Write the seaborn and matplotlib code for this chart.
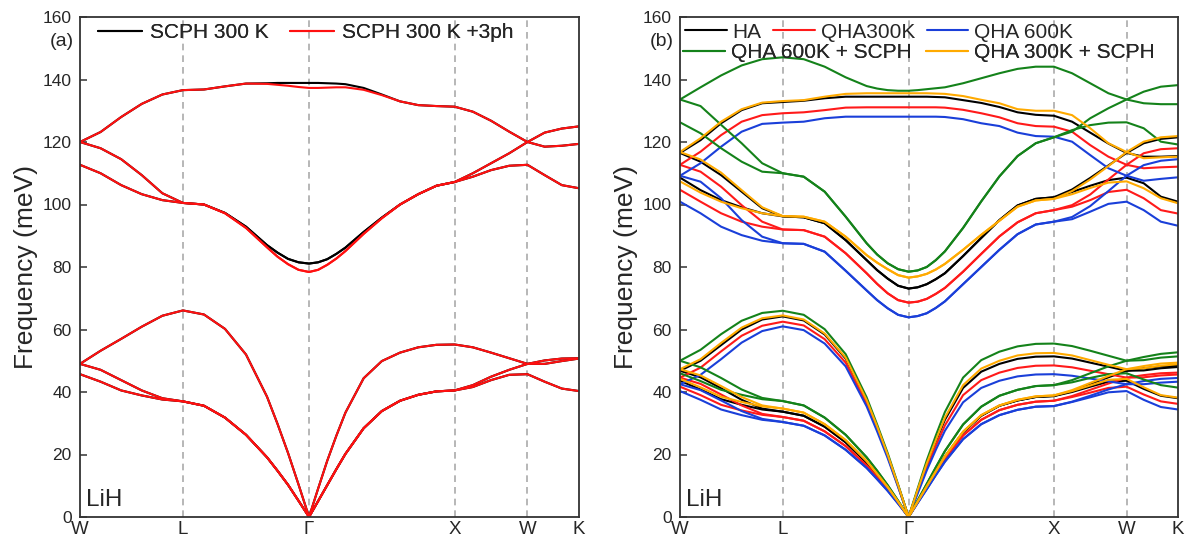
import numpy as np
import pandas as pd
import matplotlib
matplotlib.use("Agg")
import matplotlib.pyplot as plt
from matplotlib.lines import Line2D
import seaborn as sns

# fcc path W-L-G-X-W-K, distances in units of 2pi/a
KPOINT_LABELS = ["W", "L", "Γ", "X", "W", "K"]
KPOINT_POS = [0.0, 0.707, 1.573, 2.573, 3.073, 3.427]
# where the values were read along each segment (fraction of segment)
SEG_FRACS = [
    [0.2, 0.4, 0.6, 0.8, 1.0],
    [1 / 6, 2 / 6, 3 / 6, 4 / 6, 3 / 4, 5 / 6, 11 / 12, 1.0],
    [1 / 16, 1 / 8, 3 / 16, 2 / 8, 3 / 8, 4 / 8, 5 / 8, 6 / 8, 7 / 8, 1.0],
    [0.25, 0.5, 0.75, 1.0],
    [1 / 3, 2 / 3, 1.0],
]

# ---- panel (a): LiH SCPH 300 K, bands 1..6 (meV) ----
scph300 = [
    [45.7, 43.3, 40.5, 38.9, 37.6, 37.0, 35.6, 31.8, 26.3, 19.1, 14.8, 10.3, 5.2, 0.0, 5.1, 10.2, 15.3, 20.2, 28.4, 33.9, 37.2, 39.1, 40.2, 40.5, 41.6, 43.8, 45.5, 45.7, 43.3, 41.1, 40.3],
    [49.0, 47.1, 43.8, 40.5, 38.0, 37.0, 35.6, 31.8, 26.3, 19.1, 14.8, 10.3, 5.2, 0.0, 5.1, 10.2, 15.3, 20.2, 28.4, 33.9, 37.2, 39.1, 40.2, 40.5, 42.2, 44.9, 47.1, 49.0, 49.0, 49.9, 50.7],
    [49.0, 53.2, 57.0, 60.9, 64.4, 66.1, 64.8, 60.2, 52.0, 38.5, 29.8, 20.5, 10.4, 0.0, 9.1, 18.0, 26.0, 33.4, 44.4, 49.9, 52.6, 54.3, 55.1, 55.2, 54.3, 52.6, 50.8, 49.0, 50.1, 50.7, 50.8],
    [112.7, 110.0, 106.2, 103.3, 101.4, 100.5, 100.0, 97.3, 92.9, 87.0, 84.6, 82.6, 81.5, 81.1, 81.5, 82.5, 84.2, 86.2, 91.2, 95.8, 100.0, 103.3, 106.0, 107.2, 108.9, 111.0, 112.4, 112.7, 109.4, 106.2, 105.2],
    [120.0, 118.0, 114.5, 109.4, 103.6, 100.5, 100.0, 97.3, 92.9, 87.0, 84.6, 82.6, 81.5, 81.1, 81.5, 82.5, 84.2, 86.2, 91.2, 95.8, 100.0, 103.3, 106.0, 107.2, 110.0, 113.2, 116.4, 120.0, 118.5, 118.8, 119.4],
    [120.0, 123.2, 128.0, 132.2, 135.2, 136.6, 136.8, 137.8, 138.7, 138.8, 138.9, 138.9, 138.9, 138.9, 138.9, 138.8, 138.7, 138.5, 137.3, 135.2, 133.0, 131.8, 131.5, 131.3, 129.7, 126.8, 123.3, 120.0, 123.0, 124.3, 125.0],
]
scph300_3ph = [
    [45.7, 43.3, 40.5, 38.9, 37.6, 37.0, 35.6, 31.8, 26.3, 19.1, 14.8, 10.3, 5.2, 0.0, 5.1, 10.2, 15.3, 20.2, 28.4, 33.9, 37.2, 39.1, 40.2, 40.5, 41.6, 43.8, 45.5, 45.7, 43.3, 41.1, 40.3],
    [49.0, 47.1, 43.8, 40.5, 38.0, 37.0, 35.6, 31.8, 26.3, 19.1, 14.8, 10.3, 5.2, 0.0, 5.1, 10.2, 15.3, 20.2, 28.4, 33.9, 37.2, 39.1, 40.2, 40.5, 42.2, 44.9, 47.1, 49.0, 49.0, 49.9, 50.7],
    [49.0, 53.2, 57.0, 60.9, 64.4, 66.1, 64.8, 60.2, 52.0, 38.5, 29.8, 20.5, 10.4, 0.0, 9.1, 18.0, 26.0, 33.4, 44.4, 49.9, 52.6, 54.3, 55.1, 55.2, 54.3, 52.6, 50.8, 49.0, 50.1, 50.7, 50.8],
    [112.7, 110.0, 106.2, 103.3, 101.4, 100.5, 100.0, 97.2, 92.5, 86.3, 83.3, 80.9, 79.1, 78.4, 79.1, 80.7, 82.7, 85.1, 90.6, 95.6, 100.0, 103.3, 106.0, 107.2, 108.9, 111.0, 112.4, 112.7, 109.4, 106.2, 105.2],
    [120.0, 118.0, 114.5, 109.4, 103.6, 100.5, 100.0, 97.2, 92.5, 86.3, 83.3, 80.9, 79.1, 78.4, 79.1, 80.7, 82.7, 85.1, 90.6, 95.6, 100.0, 103.3, 106.0, 107.2, 110.0, 113.2, 116.4, 120.0, 118.5, 118.8, 119.4],
    [120.0, 123.2, 128.0, 132.2, 135.2, 136.6, 136.8, 137.8, 138.7, 138.6, 138.3, 138.0, 137.6, 137.3, 137.3, 137.4, 137.5, 137.5, 136.7, 135.0, 133.0, 131.8, 131.5, 131.3, 129.7, 126.8, 123.3, 120.0, 123.0, 124.3, 125.0],
]

# ---- panel (b): HA / QHA / QHA+SCPH ----
ha = [
    [43.6, 40.8, 37.7, 35.9, 34.4, 33.7, 32.4, 28.9, 23.9, 17.4, 13.4, 9.3, 4.7, 0.0, 4.9, 9.8, 14.6, 19.3, 27.1, 32.4, 35.6, 37.3, 38.4, 38.7, 40.0, 41.7, 43.3, 43.6, 41.0, 38.8, 38.0],
    [46.8, 44.7, 41.2, 37.5, 34.7, 33.7, 32.4, 28.9, 23.9, 17.4, 13.4, 9.3, 4.7, 0.0, 4.9, 9.8, 14.6, 19.3, 27.1, 32.4, 35.6, 37.3, 38.4, 38.7, 40.3, 42.5, 44.7, 46.8, 46.9, 47.6, 48.0],
    [46.8, 50.0, 55.0, 60.0, 63.2, 64.2, 62.9, 58.4, 50.7, 37.2, 28.9, 19.9, 10.1, 0.0, 8.5, 16.8, 24.2, 31.1, 41.3, 46.5, 49.0, 50.6, 51.3, 51.4, 50.7, 49.4, 48.1, 46.8, 47.6, 48.2, 48.4],
    [108.6, 104.6, 101.4, 99.1, 97.2, 96.2, 95.9, 94.0, 88.6, 82.2, 79.0, 76.3, 74.0, 73.1, 73.5, 74.5, 76.1, 78.0, 83.5, 89.3, 95.0, 99.7, 101.8, 102.3, 104.0, 106.0, 107.8, 108.6, 106.8, 102.5, 100.9],
    [116.5, 113.7, 109.4, 104.1, 98.8, 96.2, 95.9, 94.0, 88.6, 82.2, 79.0, 76.3, 74.0, 73.1, 73.5, 74.5, 76.1, 78.0, 83.5, 89.3, 95.0, 99.7, 101.8, 102.3, 104.8, 108.5, 112.5, 116.5, 115.3, 115.3, 115.5],
    [116.5, 120.6, 126.0, 130.2, 132.4, 132.8, 133.2, 134.0, 134.5, 134.5, 134.5, 134.5, 134.5, 134.5, 134.5, 134.5, 134.4, 134.3, 133.4, 132.5, 131.2, 129.5, 128.7, 128.4, 126.5, 123.0, 119.5, 116.5, 119.6, 121.0, 121.5],
]
qha300 = [
    [41.7, 39.0, 35.9, 34.1, 32.7, 32.0, 30.8, 27.4, 22.7, 16.5, 12.7, 8.8, 4.5, 0.0, 4.7, 9.4, 14.1, 18.6, 26.1, 31.1, 34.2, 35.9, 36.9, 37.2, 38.4, 39.8, 41.3, 41.7, 39.2, 37.0, 36.2],
    [44.6, 42.6, 39.2, 35.7, 33.0, 32.0, 30.8, 27.4, 22.7, 16.5, 12.7, 8.8, 4.5, 0.0, 4.7, 9.4, 14.1, 18.6, 26.1, 31.1, 34.2, 35.9, 36.9, 37.2, 38.7, 40.7, 42.7, 44.6, 44.7, 45.3, 45.6],
    [44.6, 47.8, 53.0, 58.0, 61.2, 62.5, 61.3, 56.9, 49.4, 36.3, 28.1, 19.4, 9.8, 0.0, 8.0, 15.8, 22.8, 29.3, 39.0, 43.8, 46.2, 47.7, 48.4, 48.5, 47.9, 46.8, 45.7, 44.6, 45.4, 46.0, 46.2],
    [104.7, 100.9, 97.2, 94.5, 92.9, 92.0, 91.8, 89.7, 84.4, 78.0, 74.6, 71.6, 69.4, 68.6, 68.9, 69.8, 71.4, 73.3, 78.5, 84.2, 89.8, 94.3, 97.2, 98.2, 99.3, 101.4, 104.0, 104.7, 102.0, 98.2, 97.1],
    [112.7, 110.5, 105.7, 99.8, 94.5, 92.0, 91.8, 89.7, 84.4, 78.0, 74.6, 71.6, 69.4, 68.6, 68.9, 69.8, 71.4, 73.3, 78.5, 84.2, 89.8, 94.3, 97.2, 98.2, 99.8, 103.2, 108.0, 112.7, 111.6, 111.9, 112.1],
    [112.7, 116.9, 122.2, 126.5, 128.6, 129.2, 129.5, 130.2, 131.0, 131.1, 131.1, 131.1, 131.1, 131.1, 131.1, 131.1, 131.1, 131.0, 130.3, 129.2, 127.9, 126.0, 125.1, 124.9, 123.3, 119.0, 115.3, 112.7, 116.4, 117.7, 118.0],
]
qha600 = [
    [40.3, 37.5, 34.4, 32.6, 31.1, 30.4, 29.2, 26.1, 21.5, 15.7, 12.1, 8.4, 4.3, 0.0, 4.5, 8.9, 13.4, 17.7, 24.9, 29.7, 32.6, 34.3, 35.3, 35.5, 36.8, 38.3, 39.9, 40.3, 37.5, 35.2, 34.4],
    [42.5, 40.6, 37.3, 33.9, 31.4, 30.4, 29.2, 26.1, 21.5, 15.7, 12.1, 8.4, 4.3, 0.0, 4.5, 8.9, 13.4, 17.7, 24.9, 29.7, 32.6, 34.3, 35.3, 35.5, 36.9, 38.8, 40.8, 42.5, 42.5, 43.0, 43.3],
    [42.5, 45.5, 50.5, 55.8, 59.5, 61.0, 59.8, 55.5, 48.2, 35.4, 27.4, 18.9, 9.6, 0.0, 7.5, 14.9, 21.5, 27.6, 36.7, 41.3, 43.6, 45.0, 45.6, 45.7, 45.2, 44.3, 43.4, 42.5, 43.5, 44.2, 44.5],
    [100.9, 97.2, 92.9, 90.2, 88.4, 87.6, 87.4, 84.9, 78.8, 72.5, 69.4, 66.8, 64.7, 63.9, 64.3, 65.2, 66.9, 69.0, 74.5, 80.0, 85.5, 90.5, 93.6, 94.5, 95.3, 97.7, 100.2, 100.9, 98.2, 94.5, 93.2],
    [109.2, 107.3, 102.0, 95.0, 89.7, 87.6, 87.4, 84.9, 78.8, 72.5, 69.4, 66.8, 64.7, 63.9, 64.3, 65.2, 66.9, 69.0, 74.5, 80.0, 85.5, 90.5, 93.6, 94.5, 96.0, 99.5, 104.3, 109.2, 107.6, 108.2, 108.7],
    [109.2, 113.2, 118.5, 123.3, 125.8, 126.2, 126.5, 127.6, 128.1, 128.1, 128.1, 128.1, 128.1, 128.1, 128.1, 128.1, 128.1, 128.0, 127.3, 126.0, 125.1, 123.0, 121.9, 121.7, 120.1, 115.8, 111.6, 109.2, 112.6, 114.0, 114.5],
]
qha600_scph = [
    [46.0, 43.5, 40.7, 39.1, 37.7, 37.1, 35.7, 31.8, 26.3, 19.1, 14.8, 10.2, 5.2, 0.0, 5.3, 10.6, 15.9, 21.1, 29.6, 35.3, 38.8, 40.7, 41.9, 42.2, 43.1, 44.5, 45.7, 46.0, 44.0, 42.2, 41.4],
    [50.0, 47.9, 44.5, 40.8, 38.1, 37.1, 35.7, 31.8, 26.3, 19.1, 14.8, 10.2, 5.2, 0.0, 5.3, 10.6, 15.9, 21.1, 29.6, 35.3, 38.8, 40.7, 41.9, 42.2, 43.8, 46.0, 48.2, 50.0, 50.2, 51.0, 51.4],
    [50.0, 53.5, 58.5, 62.8, 65.3, 66.0, 64.7, 60.1, 52.1, 38.3, 29.6, 20.5, 10.4, 0.0, 9.1, 18.1, 26.1, 33.6, 44.6, 50.2, 52.9, 54.6, 55.4, 55.5, 54.7, 53.2, 51.6, 50.0, 51.2, 52.2, 52.7],
    [126.3, 122.8, 118.0, 113.7, 110.5, 110.0, 108.9, 104.1, 96.1, 87.6, 84.0, 81.2, 79.3, 78.5, 78.9, 80.0, 82.2, 85.0, 92.5, 101.0, 109.0, 115.5, 119.6, 121.5, 123.8, 125.4, 126.2, 126.3, 124.4, 120.1, 119.2],
    [133.6, 131.5, 125.5, 119.6, 113.2, 110.0, 108.9, 104.1, 96.1, 87.6, 84.0, 81.2, 79.3, 78.5, 78.9, 80.0, 82.2, 85.0, 92.5, 101.0, 109.0, 115.5, 119.6, 121.5, 123.3, 127.6, 130.8, 133.6, 132.4, 132.1, 132.1],
    [133.6, 137.5, 141.3, 144.5, 146.5, 147.1, 146.5, 144.1, 140.7, 137.9, 137.1, 136.6, 136.4, 136.4, 136.6, 136.9, 137.2, 137.5, 138.8, 140.4, 142.0, 143.4, 144.1, 144.1, 142.0, 138.8, 135.6, 133.6, 136.1, 137.7, 138.2],
]
qha300_scph = [
    [44.2, 41.5, 38.5, 36.8, 35.4, 34.7, 33.4, 29.7, 24.6, 17.9, 13.8, 9.6, 4.9, 0.0, 4.9, 9.8, 14.6, 19.4, 27.3, 32.6, 35.7, 37.5, 38.6, 38.9, 40.3, 42.1, 43.9, 44.2, 41.5, 39.0, 38.2],
    [47.3, 45.3, 41.9, 38.4, 35.7, 34.7, 33.4, 29.7, 24.6, 17.9, 13.8, 9.6, 4.9, 0.0, 4.9, 9.8, 14.6, 19.4, 27.3, 32.6, 35.7, 37.5, 38.6, 38.9, 40.6, 42.9, 45.1, 47.3, 47.6, 48.4, 48.9],
    [47.3, 50.5, 55.7, 60.6, 63.6, 64.5, 63.2, 58.7, 51.0, 37.4, 29.0, 20.0, 10.2, 0.0, 8.7, 17.1, 24.6, 31.8, 42.2, 47.5, 50.0, 51.7, 52.4, 52.5, 51.7, 50.2, 48.7, 47.3, 48.3, 49.1, 49.4],
    [107.4, 103.8, 100.9, 98.8, 97.2, 96.3, 96.1, 94.5, 89.7, 83.8, 81.4, 79.3, 77.4, 76.6, 77.0, 77.8, 79.2, 81.0, 85.5, 90.3, 94.8, 99.3, 101.3, 101.8, 103.3, 105.3, 107.0, 107.4, 105.2, 102.0, 100.4],
    [116.8, 114.4, 110.2, 104.6, 99.1, 96.3, 96.1, 94.5, 89.7, 83.8, 81.4, 79.3, 77.4, 76.6, 77.0, 77.8, 79.2, 81.0, 85.5, 90.3, 94.8, 99.3, 101.3, 101.8, 104.3, 108.0, 112.3, 116.8, 114.8, 115.1, 115.3],
    [116.8, 121.2, 126.5, 130.5, 132.6, 133.1, 133.4, 134.5, 135.4, 135.6, 135.6, 135.6, 135.6, 135.6, 135.6, 135.6, 135.5, 135.4, 134.7, 133.5, 132.4, 130.5, 130.0, 130.0, 128.6, 124.4, 119.6, 116.8, 120.1, 121.5, 121.9],
]

PANEL_A = {"SCPH 300 K": scph300, "SCPH 300 K +3ph": scph300_3ph}
PANEL_B = {"HA": ha, "QHA300K": qha300, "QHA 600K": qha600,
           "QHA 600K + SCPH": qha600_scph, "QHA 300K + SCPH": qha300_scph}
COLORS = {"SCPH 300 K": "black", "SCPH 300 K +3ph": "#ff1010",
          "HA": "black", "QHA300K": "#ff1a1a", "QHA 600K": "#1a3fd9",
          "QHA 600K + SCPH": "#14821a", "QHA 300K + SCPH": "#ffaa00"}


def k_grid():
    ks = [KPOINT_POS[0]]
    for i, fracs in enumerate(SEG_FRACS):
        a, b = KPOINT_POS[i], KPOINT_POS[i + 1]
        ks += [a + f * (b - a) for f in fracs]
    return ks


def to_frame(datasets):
    ks = k_grid()
    rows = []
    for name, bands in datasets.items():
        for b, vals in enumerate(bands):
            for k, f in zip(ks, vals):
                rows.append((name, b, k, f))
    return pd.DataFrame(rows, columns=["dataset", "band", "k", "freq"])


def draw_panel(ax, datasets, tag):
    df = to_frame(datasets)
    order = list(datasets)
    sns.lineplot(data=df, x="k", y="freq", hue="dataset", units="band",
                 estimator=None, sort=False, hue_order=order,
                 palette=COLORS, lw=1.5, legend=False, ax=ax)
    for p in KPOINT_POS[1:-1]:
        ax.axvline(p, color="#aaaaaa", lw=1.2, ls=(0, (4, 3)), zorder=0)
    ax.set_xlim(KPOINT_POS[0], KPOINT_POS[-1])
    ax.set_ylim(0, 160)
    ax.set_yticks(range(0, 161, 20))
    ax.set_xticks(KPOINT_POS)
    ax.set_xticklabels(KPOINT_LABELS, fontsize=13.5)
    ax.tick_params(axis="x", length=0, pad=3)
    ax.tick_params(axis="y", direction="in", length=5, width=1.1,
                   labelsize=12.5, pad=6, color="#333333")
    ax.set_xlabel("")
    ax.set_ylabel("Frequency (meV)", fontsize=19)
    ax.yaxis.set_label_coords(-0.085, 0.5)
    for s in ax.spines.values():
        s.set_color("#333333")
        s.set_linewidth(1.3)
    ax.text(-0.012, 0.95, tag, transform=ax.transAxes, ha="right",
            va="center", fontsize=14)
    ax.text(0.012, 0.012, "LiH", transform=ax.transAxes, ha="left",
            va="bottom", fontsize=17.5)


def add_legend(ax, names, anchor, colspace, ncol, handlelen, textpad):
    handles = [Line2D([], [], color=COLORS[n], lw=1.5) for n in names]
    leg = ax.legend(handles, names, loc="center left", bbox_to_anchor=anchor,
                    ncol=ncol, frameon=False, fontsize=15, borderpad=0,
                    borderaxespad=0, handlelength=handlelen,
                    handletextpad=textpad, columnspacing=colspace)
    ax.add_artist(leg)


sns.set_theme(style="ticks")
plt.rcParams["font.family"] = ["Liberation Sans", "DejaVu Sans"]

fig = plt.figure(figsize=(11.94, 5.41), dpi=100)
ax_a = fig.add_axes([80 / 1194, 24 / 541, 499 / 1194, 500 / 541])
ax_b = fig.add_axes([680 / 1194, 24 / 541, 498 / 1194, 500 / 541])

draw_panel(ax_a, PANEL_A, "(a)")
draw_panel(ax_b, PANEL_B, "(b)")

add_legend(ax_a, ["SCPH 300 K", "SCPH 300 K +3ph"], (0.036, 0.968), 1.05, 2, 2.1, 0.38)
add_legend(ax_b, ["HA", "QHA300K", "QHA 600K"], (0.01, 0.97), 0.55, 3, 2.0, 0.29)
add_legend(ax_b, ["QHA 600K + SCPH", "QHA 300K + SCPH"], (0.006, 0.928), 0.7, 2, 2.0, 0.29)

fig.savefig("out.png", dpi=100, facecolor="white")
